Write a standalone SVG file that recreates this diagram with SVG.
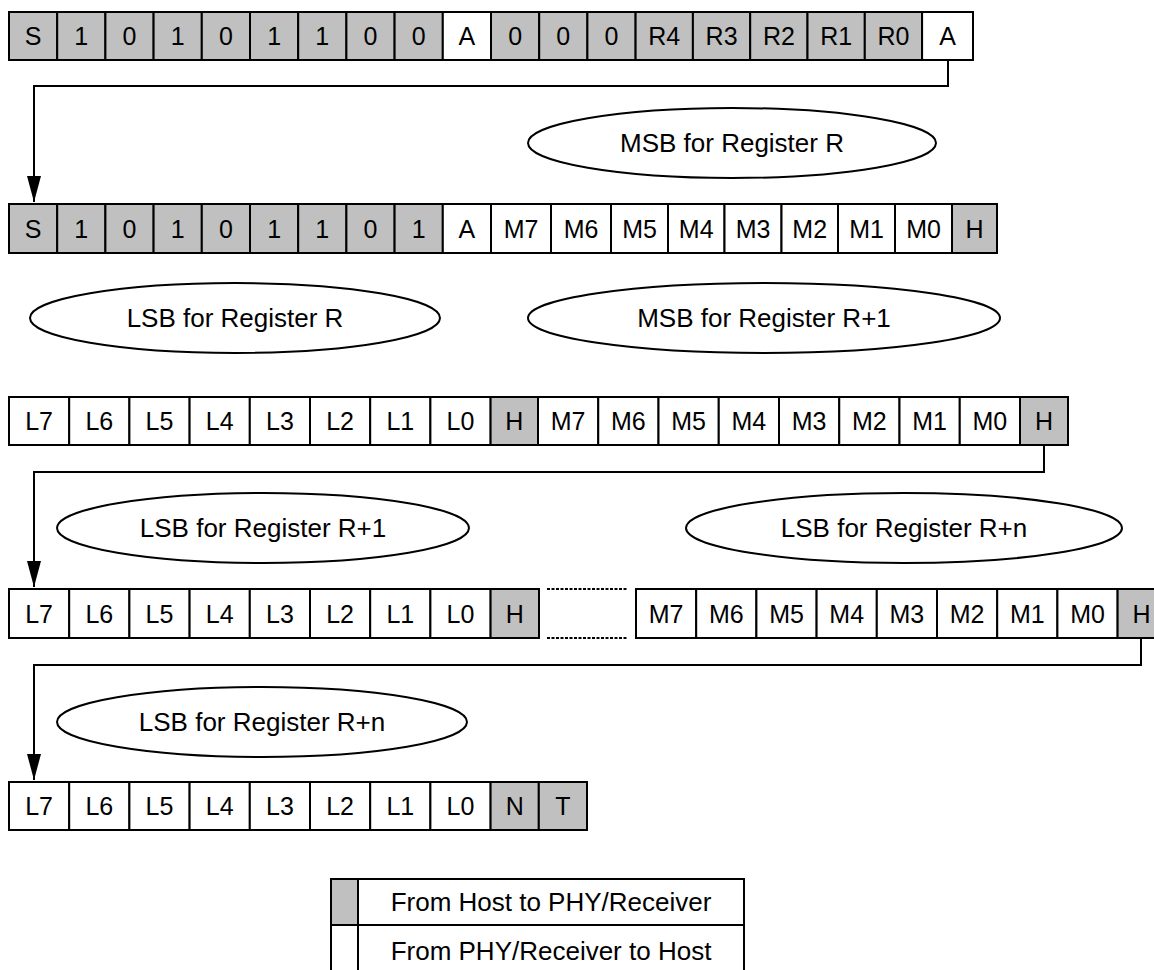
<svg xmlns="http://www.w3.org/2000/svg" width="1154" height="970" viewBox="0 0 1154 970">
<defs>
<style>
.c{stroke:#000;stroke-width:2;}
.g{fill:#c0c0c0;}
.w{fill:#fff;}
text{font-family:"Liberation Sans",Arial,sans-serif;font-size:25px;fill:#000;text-anchor:middle;dominant-baseline:central;}
.big{font-size:26px;}
.e{fill:#fff;stroke:#000;stroke-width:2;}
.ln{fill:none;stroke:#000;stroke-width:2;}
.dot{fill:none;stroke:#000;stroke-width:2;stroke-dasharray:3,1.5;}
</style>
<marker id="arr" markerUnits="userSpaceOnUse" markerWidth="14" markerHeight="26" refX="7" refY="26" orient="0" viewBox="0 0 14 26">
<path d="M0,0 L14,0 L7,26 z" fill="#000"/>
</marker>
</defs>
<rect width="1154" height="970" fill="#fff"/>

<g id="connectors">
<path class="ln" d="M948,60 V86 H34 V202" marker-end="url(#arr)"/>
<path class="ln" d="M1044,445 V472 H34 V587" marker-end="url(#arr)"/>
<path class="ln" d="M1141,638 V665 H34 V780" marker-end="url(#arr)"/>
</g>

<g id="row1">
<rect class="c g" x="9" y="12" width="48.2" height="48"/><text x="33.1" y="36">S</text>
<rect class="c g" x="57.2" y="12" width="48.2" height="48"/><text x="81.3" y="36">1</text>
<rect class="c g" x="105.4" y="12" width="48.2" height="48"/><text x="129.5" y="36">0</text>
<rect class="c g" x="153.6" y="12" width="48.2" height="48"/><text x="177.7" y="36">1</text>
<rect class="c g" x="201.8" y="12" width="48.2" height="48"/><text x="225.9" y="36">0</text>
<rect class="c g" x="250" y="12" width="48.2" height="48"/><text x="274.1" y="36">1</text>
<rect class="c g" x="298.2" y="12" width="48.2" height="48"/><text x="322.3" y="36">1</text>
<rect class="c g" x="346.4" y="12" width="48.2" height="48"/><text x="370.5" y="36">0</text>
<rect class="c g" x="394.6" y="12" width="48.2" height="48"/><text x="418.7" y="36">0</text>
<rect class="c w" x="442.8" y="12" width="48.2" height="48"/><text x="466.9" y="36">A</text>
<rect class="c g" x="491" y="12" width="48.2" height="48"/><text x="515.1" y="36">0</text>
<rect class="c g" x="539.2" y="12" width="48.2" height="48"/><text x="563.3" y="36">0</text>
<rect class="c g" x="587.4" y="12" width="48.2" height="48"/><text x="611.5" y="36">0</text>
<rect class="c g" x="635.6" y="12" width="57.3" height="48"/><text x="664.3" y="36">R4</text>
<rect class="c g" x="692.9" y="12" width="57.3" height="48"/><text x="721.6" y="36">R3</text>
<rect class="c g" x="750.2" y="12" width="57.3" height="48"/><text x="778.9" y="36">R2</text>
<rect class="c g" x="807.5" y="12" width="57.3" height="48"/><text x="836.2" y="36">R1</text>
<rect class="c g" x="864.8" y="12" width="57.3" height="48"/><text x="893.5" y="36">R0</text>
<rect class="c w" x="922.1" y="12" width="50.9" height="48"/><text x="947.5" y="36">A</text>
</g>

<g id="ellipse-msb-r">
<ellipse class="e" cx="732" cy="143" rx="204" ry="35"/><text class="big" x="732" y="143">MSB for Register R</text>
</g>

<g id="row2">
<rect class="c g" x="9" y="204" width="48.2" height="49"/><text x="33.1" y="228.5">S</text>
<rect class="c g" x="57.2" y="204" width="48.2" height="49"/><text x="81.3" y="228.5">1</text>
<rect class="c g" x="105.4" y="204" width="48.2" height="49"/><text x="129.5" y="228.5">0</text>
<rect class="c g" x="153.6" y="204" width="48.2" height="49"/><text x="177.7" y="228.5">1</text>
<rect class="c g" x="201.8" y="204" width="48.2" height="49"/><text x="225.9" y="228.5">0</text>
<rect class="c g" x="250" y="204" width="48.2" height="49"/><text x="274.1" y="228.5">1</text>
<rect class="c g" x="298.2" y="204" width="48.2" height="49"/><text x="322.3" y="228.5">1</text>
<rect class="c g" x="346.4" y="204" width="48.2" height="49"/><text x="370.5" y="228.5">0</text>
<rect class="c g" x="394.6" y="204" width="48.2" height="49"/><text x="418.7" y="228.5">1</text>
<rect class="c w" x="442.8" y="204" width="48.2" height="49"/><text x="466.9" y="228.5">A</text>
<rect class="c w" x="491" y="204" width="60" height="49"/><text x="521" y="228.5">M7</text>
<rect class="c w" x="551" y="204" width="60" height="49"/><text x="581" y="228.5">M6</text>
<rect class="c w" x="611" y="204" width="57" height="49"/><text x="639.5" y="228.5">M5</text>
<rect class="c w" x="668" y="204" width="56.5" height="49"/><text x="696.2" y="228.5">M4</text>
<rect class="c w" x="724.5" y="204" width="57" height="49"/><text x="753" y="228.5">M3</text>
<rect class="c w" x="781.5" y="204" width="56.5" height="49"/><text x="809.7" y="228.5">M2</text>
<rect class="c w" x="838" y="204" width="57" height="49"/><text x="866.5" y="228.5">M1</text>
<rect class="c w" x="895" y="204" width="57" height="49"/><text x="923.5" y="228.5">M0</text>
<rect class="c g" x="952" y="204" width="45" height="49"/><text x="974.5" y="228.5">H</text>
</g>

<g id="ellipse-lsb-r">
<ellipse class="e" cx="235" cy="318" rx="205" ry="35"/><text class="big" x="235" y="318">LSB for Register R</text>
</g>
<g id="ellipse-msb-r1">
<ellipse class="e" cx="764" cy="318" rx="236" ry="35"/><text class="big" x="764" y="318">MSB for Register R+1</text>
</g>

<g id="row3">
<rect class="c w" x="9" y="397" width="60.2" height="48"/><text x="39.1" y="421">L7</text>
<rect class="c w" x="69.2" y="397" width="60.2" height="48"/><text x="99.3" y="421">L6</text>
<rect class="c w" x="129.4" y="397" width="60.2" height="48"/><text x="159.5" y="421">L5</text>
<rect class="c w" x="189.6" y="397" width="60.2" height="48"/><text x="219.7" y="421">L4</text>
<rect class="c w" x="249.8" y="397" width="60.2" height="48"/><text x="279.9" y="421">L3</text>
<rect class="c w" x="310" y="397" width="60.2" height="48"/><text x="340.1" y="421">L2</text>
<rect class="c w" x="370.2" y="397" width="60.2" height="48"/><text x="400.3" y="421">L1</text>
<rect class="c w" x="430.4" y="397" width="60.2" height="48"/><text x="460.5" y="421">L0</text>
<rect class="c g" x="490.6" y="397" width="47.4" height="48"/><text x="514.3" y="421">H</text>
<rect class="c w" x="538" y="397" width="60.25" height="48"/><text x="568.1" y="421">M7</text>
<rect class="c w" x="598.25" y="397" width="60.25" height="48"/><text x="628.4" y="421">M6</text>
<rect class="c w" x="658.5" y="397" width="60.25" height="48"/><text x="688.6" y="421">M5</text>
<rect class="c w" x="718.75" y="397" width="60.25" height="48"/><text x="748.9" y="421">M4</text>
<rect class="c w" x="779" y="397" width="60.25" height="48"/><text x="809.1" y="421">M3</text>
<rect class="c w" x="839.25" y="397" width="60.25" height="48"/><text x="869.4" y="421">M2</text>
<rect class="c w" x="899.5" y="397" width="60.25" height="48"/><text x="929.6" y="421">M1</text>
<rect class="c w" x="959.75" y="397" width="60.25" height="48"/><text x="989.9" y="421">M0</text>
<rect class="c g" x="1020" y="397" width="48" height="48"/><text x="1044" y="421">H</text>
</g>

<g id="ellipse-lsb-r1">
<ellipse class="e" cx="263" cy="528" rx="206" ry="35"/><text class="big" x="263" y="528">LSB for Register R+1</text>
</g>
<g id="ellipse-lsb-rn-1">
<ellipse class="e" cx="904" cy="528" rx="218" ry="35"/><text class="big" x="904" y="528">LSB for Register R+n</text>
</g>

<g id="row4">
<rect class="c w" x="9" y="589" width="60.2" height="49"/><text x="39.1" y="613.5">L7</text>
<rect class="c w" x="69.2" y="589" width="60.2" height="49"/><text x="99.3" y="613.5">L6</text>
<rect class="c w" x="129.4" y="589" width="60.2" height="49"/><text x="159.5" y="613.5">L5</text>
<rect class="c w" x="189.6" y="589" width="60.2" height="49"/><text x="219.7" y="613.5">L4</text>
<rect class="c w" x="249.8" y="589" width="60.2" height="49"/><text x="279.9" y="613.5">L3</text>
<rect class="c w" x="310" y="589" width="60.2" height="49"/><text x="340.1" y="613.5">L2</text>
<rect class="c w" x="370.2" y="589" width="60.2" height="49"/><text x="400.3" y="613.5">L1</text>
<rect class="c w" x="430.4" y="589" width="60.2" height="49"/><text x="460.5" y="613.5">L0</text>
<rect class="c g" x="490.6" y="589" width="48.4" height="49"/><text x="514.8" y="613.5">H</text>
<path class="dot" d="M547,589 H627 M547,638 H627"/>
<rect class="c w" x="636" y="589" width="60.2" height="49"/><text x="666.1" y="613.5">M7</text>
<rect class="c w" x="696.2" y="589" width="60.2" height="49"/><text x="726.3" y="613.5">M6</text>
<rect class="c w" x="756.4" y="589" width="60.2" height="49"/><text x="786.5" y="613.5">M5</text>
<rect class="c w" x="816.6" y="589" width="60.2" height="49"/><text x="846.7" y="613.5">M4</text>
<rect class="c w" x="876.8" y="589" width="60.2" height="49"/><text x="906.9" y="613.5">M3</text>
<rect class="c w" x="937" y="589" width="60.2" height="49"/><text x="967.1" y="613.5">M2</text>
<rect class="c w" x="997.2" y="589" width="60.2" height="49"/><text x="1027.3" y="613.5">M1</text>
<rect class="c w" x="1057.4" y="589" width="60.2" height="49"/><text x="1087.5" y="613.5">M0</text>
<rect class="c g" x="1117.6" y="589" width="48" height="49"/><text x="1141.6" y="613.5">H</text>
</g>

<g id="ellipse-lsb-rn-2">
<ellipse class="e" cx="262" cy="722" rx="205" ry="35"/><text class="big" x="262" y="722">LSB for Register R+n</text>
</g>

<g id="row5">
<rect class="c w" x="9" y="782" width="60.2" height="48"/><text x="39.1" y="806">L7</text>
<rect class="c w" x="69.2" y="782" width="60.2" height="48"/><text x="99.3" y="806">L6</text>
<rect class="c w" x="129.4" y="782" width="60.2" height="48"/><text x="159.5" y="806">L5</text>
<rect class="c w" x="189.6" y="782" width="60.2" height="48"/><text x="219.7" y="806">L4</text>
<rect class="c w" x="249.8" y="782" width="60.2" height="48"/><text x="279.9" y="806">L3</text>
<rect class="c w" x="310" y="782" width="60.2" height="48"/><text x="340.1" y="806">L2</text>
<rect class="c w" x="370.2" y="782" width="60.2" height="48"/><text x="400.3" y="806">L1</text>
<rect class="c w" x="430.4" y="782" width="60.2" height="48"/><text x="460.5" y="806">L0</text>
<rect class="c g" x="490.6" y="782" width="48.2" height="48"/><text x="514.7" y="806">N</text>
<rect class="c g" x="538.8" y="782" width="48.2" height="48"/><text x="562.9" y="806">T</text>
</g>

<g id="legend">
<rect class="c g" x="331" y="879" width="27" height="46"/>
<rect class="c w" x="358" y="879" width="386" height="46"/><text class="big" x="551" y="902">From Host to PHY/Receiver</text>
<rect class="c w" x="331" y="925" width="27" height="50"/>
<rect class="c w" x="358" y="925" width="386" height="50"/><text class="big" x="551" y="951">From PHY/Receiver to Host</text>
</g>
</svg>
